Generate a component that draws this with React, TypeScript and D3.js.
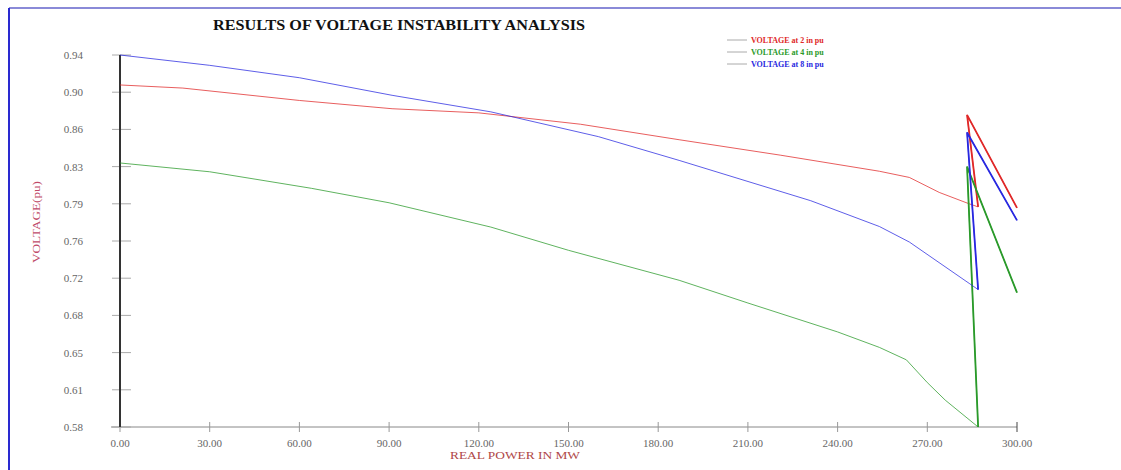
import React from "react";
import * as d3 from "d3";

// values
const xTicks = [0, 30, 60, 90, 120, 150, 180, 210, 240, 270, 300];
const yTickLabels = ["0.58", "0.61", "0.65", "0.68", "0.72", "0.76", "0.79", "0.83", "0.86", "0.90", "0.94"];

const bus2P = [0, 21, 60, 91, 120, 154, 187, 221, 254, 264, 274, 284, 287, 283.3, 300];
const bus2V = [0.911, 0.908, 0.896, 0.888, 0.884, 0.873, 0.858, 0.843, 0.8275, 0.8215, 0.807, 0.796, 0.793, 0.882, 0.792];

const bus4P = [0, 30, 64, 90, 124, 150, 187, 210, 240, 254, 263, 270, 276, 287, 283.3, 300];
const bus4V = [0.8355, 0.827, 0.811, 0.797, 0.7735, 0.751, 0.722, 0.7, 0.672, 0.657, 0.645, 0.623, 0.606, 0.58, 0.832, 0.71];

const bus8P = [0, 30, 60, 91, 124, 160, 187, 231, 254, 264, 284, 287, 283.3, 300];
const bus8V = [0.94, 0.93, 0.918, 0.901, 0.885, 0.861, 0.838, 0.799, 0.774, 0.759, 0.719, 0.713, 0.865, 0.78];

const seriesNames = ["VOLTAGE at 2 in pu", "VOLTAGE at 4 in pu", "VOLTAGE at 8 in pu"];
const seriesColors = ["#e02828", "#2a9a2a", "#2828e0"];

const W = 1121;
const H = 470;

const App = () => {
  const x = d3.scaleLinear().domain([0, 300]).range([120, 1017]);
  const y = d3.scaleLinear().domain([0.58, 0.94]).range([427, 55]);
  const yStep = (0.94 - 0.58) / (yTickLabels.length - 1);

  const series = [
    bus2P.map((p, i) => ({ p, v: bus2V[i] })),
    bus4P.map((p, i) => ({ p, v: bus4V[i] })),
    bus8P.map((p, i) => ({ p, v: bus8V[i] })),
  ];

  const line = d3
    .line<{ p: number; v: number }>()
    .x((d) => x(d.p))
    .y((d) => y(d.v));

  return (
    <svg
      width={W}
      height={H}
      style={{ position: "absolute", left: 0, top: 0, background: "#fff" }}
      fontFamily="'Liberation Serif', 'DejaVu Serif', serif"
    >
      {/* frame */}
      <line x1={9} y1={8} x2={W} y2={8} stroke="#8a8ad8" strokeWidth={2} />
      <line x1={9} y1={8} x2={9} y2={H} stroke="#2a2ad0" strokeWidth={2} />

      <text
        x={399}
        y={30}
        textAnchor="middle"
        fontSize={14}
        fontWeight="bold"
        fill="#111"
        textLength={372}
        lengthAdjust="spacingAndGlyphs"
      >
        RESULTS OF VOLTAGE INSTABILITY ANALYSIS
      </text>

      {/* legend */}
      {seriesNames.map((name, i) => (
        <g key={name} transform={`translate(727, ${40 + i * 12})`}>
          <line x1={0} x2={20} y1={0} y2={0} stroke="#aaa" strokeWidth={1} />
          <text x={24} y={3} fontSize={8} fontWeight="bold" fill={seriesColors[i]}>
            {name}
          </text>
        </g>
      ))}

      {/* x axis */}
      <line x1={111} x2={x(300)} y1={y(0.58)} y2={y(0.58)} stroke="#888" strokeWidth={1} />
      {xTicks.map((t) => (
        <g key={t} transform={`translate(${x(t)}, ${y(0.58)})`}>
          <line y1={-5} y2={5} stroke={t === 300 ? "#444" : "#999"} strokeWidth={1} />
          <text y={20} textAnchor="middle" fontSize={11} fill="#666">
            {t.toFixed(2)}
          </text>
        </g>
      ))}
      <text x={515} y={459} textAnchor="middle" fontSize={11} fill="#b04848" textLength={130} lengthAdjust="spacingAndGlyphs">
        REAL POWER IN MW
      </text>

      {/* y axis */}
      {yTickLabels.map((lab, i) => {
        const yy = y(0.58 + i * yStep);
        return (
          <g key={lab} transform={`translate(0, ${yy})`}>
            <line x1={112} x2={131} stroke="#aaa" strokeWidth={1} />
            <text x={83} y={4} textAnchor="end" fontSize={11} fill="#666">
              {lab}
            </text>
          </g>
        );
      })}
      <line x1={120} x2={120} y1={y(0.94)} y2={y(0.58)} stroke="#333" strokeWidth={2} />
      <text
        transform="translate(40, 222) rotate(-90)"
        textAnchor="middle"
        fontSize={11}
        fill="#c04a68"
        textLength={82}
        lengthAdjust="spacingAndGlyphs"
      >
        VOLTAGE(pu)
      </text>

      {/* curves */}
      {series.map((s, i) => (
        <g key={i}>
          <path d={line(s) ?? ""} fill="none" stroke={seriesColors[i]} strokeWidth={1} strokeOpacity={0.75} />
          <path
            d={line(s.slice(s.length - 3)) ?? ""}
            fill="none"
            stroke={seriesColors[i]}
            strokeWidth={1.8}
          />
        </g>
      ))}
    </svg>
  );
};

export default App;
